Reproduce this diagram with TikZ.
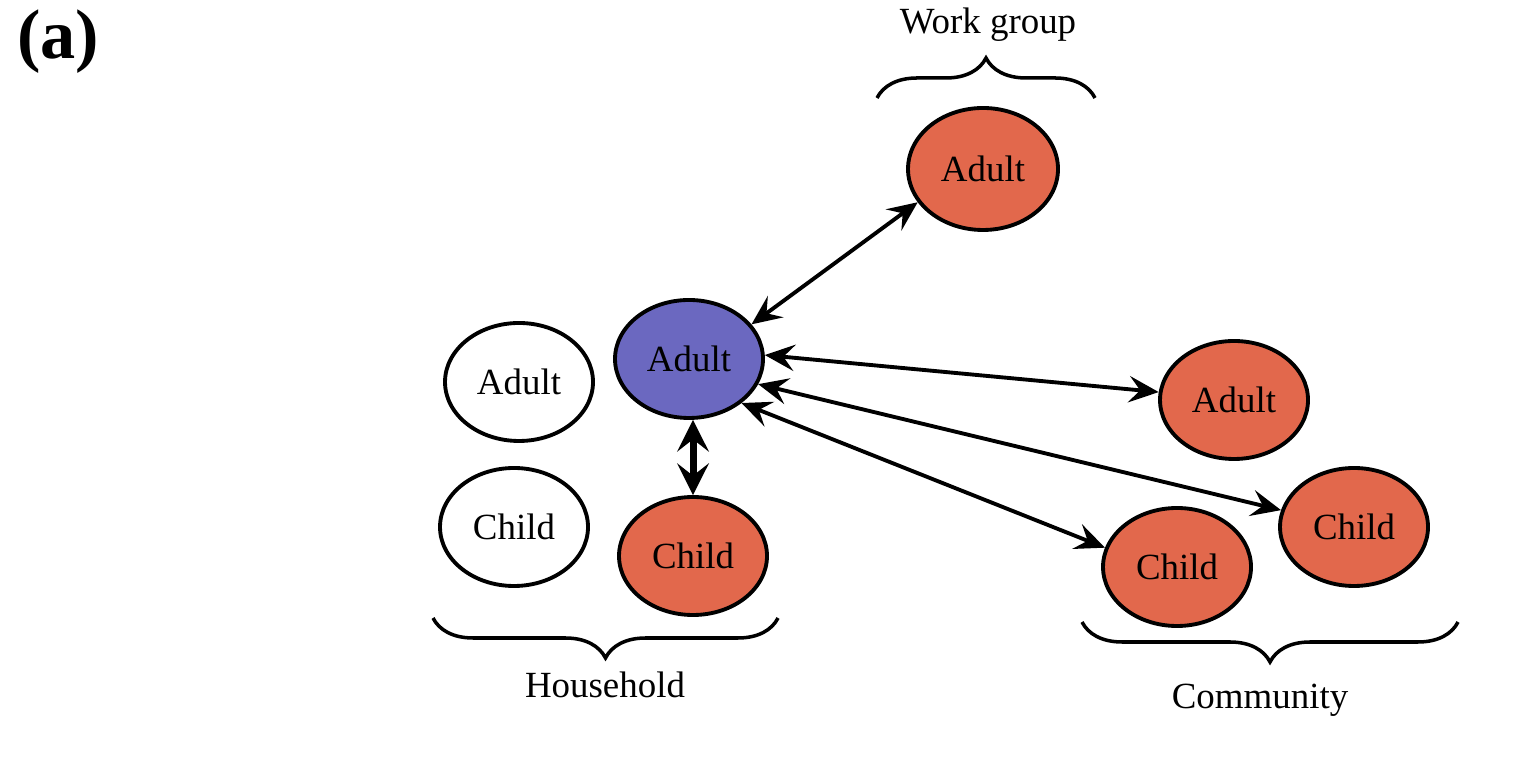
\documentclass[tikz,border=0pt]{standalone}
\usepackage{fontspec}
\setmainfont{Liberation Serif}
\usepackage{tikz}
\usetikzlibrary{shapes.geometric,arrows.meta,decorations.pathreplacing}
\definecolor{egoblue}{HTML}{6B68C0}
\definecolor{contactred}{HTML}{E2684C}
\newcommand{\egocol}{egoblue}
\newcommand{\contcol}{contactred}
\tikzset{
  person/.style={ellipse, draw=black, line width=1.1pt, inner sep=0pt,
    minimum width=1.48cm, minimum height=1.18cm, font=\fontsize{10.5}{12}\selectfont},
  link/.style={<->, >={Stealth[length=8.5pt,width=7.5pt,inset=3.2pt]}, line width=1.1pt},
  group/.style={decorate, decoration={brace, amplitude=0.4cm}, line width=1pt},
  grouplabel/.style={font=\fontsize{10.5}{12}\selectfont}
}
\begin{document}
\begin{tikzpicture}
    \useasboundingbox (0, 0) rectangle (15.37, 7.57);

    \node[font=\bfseries\fontsize{20}{24}\selectfont] (panel) at (0.58, 7.15) {(a)};

    % foyer
    \node[person] (wAdult) at (5.19, 3.75) {Adult};
    \node[person] (wChild) at (5.14, 2.30) {Child};
    \node[person, fill=\egocol] (ego) at (6.89, 3.98) {Adult};
    \node[person, fill=\contcol] (hChild) at (6.93, 2.01) {Child};

    % groupe de travail
    \node[person, fill=\contcol, minimum height=1.22cm, minimum width=1.5cm] (wgAdult) at (9.83, 5.88) {Adult};

    % communaute
    \node[person, fill=\contcol] (cAdult) at (12.34, 3.57) {Adult};
    \node[person, fill=\contcol] (cChildR) at (13.54, 2.30) {Child};
    \node[person, fill=\contcol] (cChildL) at (11.77, 1.90) {Child};

    % contacts
    \draw[link] (ego.29) -- (wgAdult.207);
    \draw[link] (ego.3) -- (cAdult.174);
    \draw[link] (ego.-20) -- (cChildR.167);
    \draw[link] (ego.-40) -- (cChildL.165);
    \draw[link, line width=2pt, >={Stealth[length=9pt,width=9pt,inset=3.5pt]}]
        (hChild.north) -- (hChild.north |- ego.south);

    % accolades
    \draw[group] (8.77, 6.59) -- (10.95, 6.59);
    \draw[group] (7.78, 1.39) -- (4.33, 1.39);
    \draw[group] (14.58, 1.35) -- (10.82, 1.35);

    \node[grouplabel] (wgLabel) at (9.88, 7.32) {Work group};
    \node[grouplabel] (hhLabel) at (6.05, 0.72) {Household};
    \node[grouplabel] (cLabel) at (12.60, 0.57) {Community};

\end{tikzpicture}
\end{document}
